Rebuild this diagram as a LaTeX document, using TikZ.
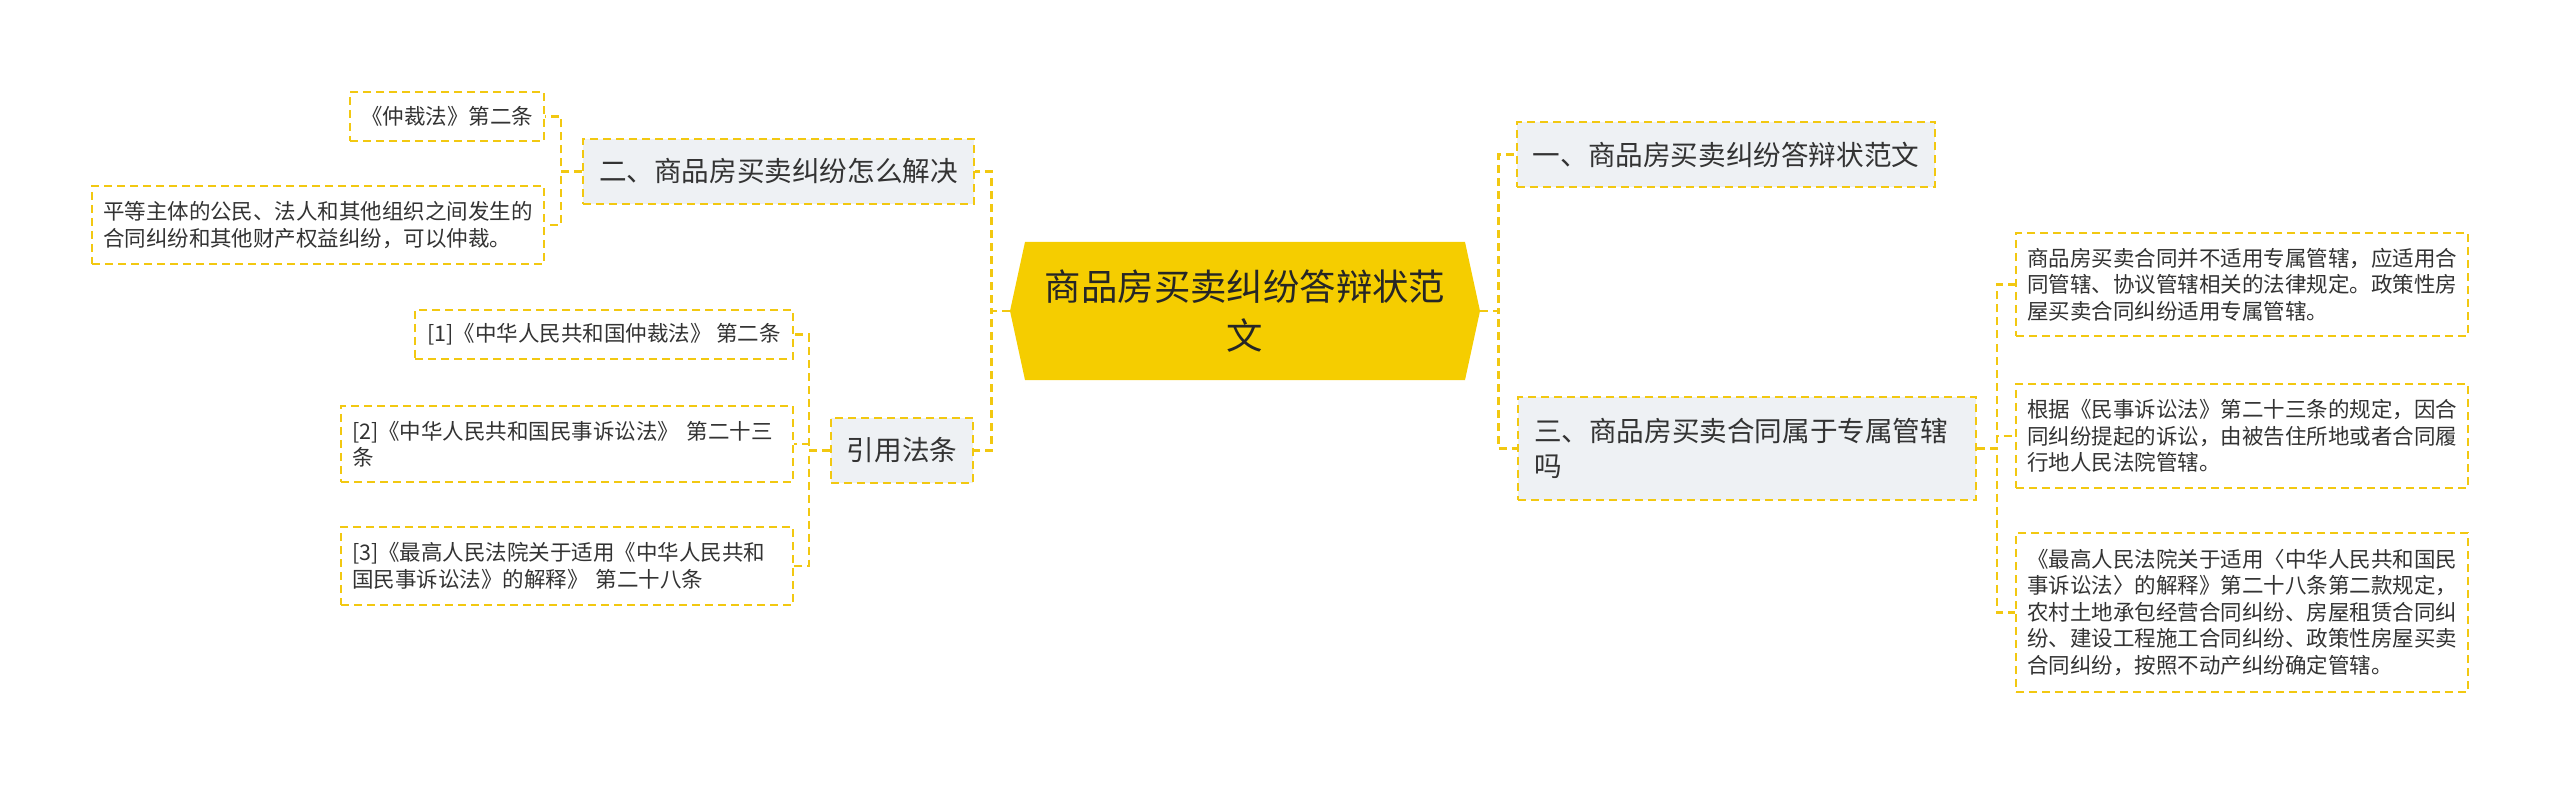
\documentclass[tikz,border=0pt]{standalone}
\usepackage{fontspec}
\setmainfont{Noto Sans CJK SC}
\definecolor{gold}{HTML}{F2C811}
\definecolor{rootfill}{HTML}{F5CD00}
\definecolor{secfill}{HTML}{EEF1F4}
\definecolor{ink}{HTML}{333333}

\tikzset{
  link/.style={draw=gold, line width=1.2pt, dash pattern=on 4pt off 2.5pt},
  section/.style={draw=gold, fill=secfill, line width=1pt, dash pattern=on 4pt off 2.5pt,
                  text=ink, font=\fontsize{13.8}{17.5}\selectfont, inner xsep=8pt, inner ysep=0pt},
  leaf/.style={draw=gold, fill=white, line width=1pt, dash pattern=on 4pt off 2.5pt,
               text=ink, font=\fontsize{10.75}{13.25}\selectfont, inner xsep=5.5pt, inner ysep=0pt},
  longleaf/.style={leaf, minimum width=226pt, text width=215pt, align=left},
}

\begin{document}
\begin{tikzpicture}[x=0.5pt, y=-0.5pt]
	\useasboundingbox (0,0) rectangle (2560,786);

	% centre
	\fill[rootfill] (1010,311) -- (1025,242) -- (1465,242) -- (1480,311) -- (1465,380) -- (1025,380) -- cycle;
	\node[minimum width=235pt, minimum height=69pt, inner sep=0pt, align=center,
	      font=\fontsize{18.2}{24.5}\selectfont, text=black!85] (root) at (1245,311)
	      {商品房买卖纠纷答辩状范\\文};

	% left side
	\node[section, minimum width=193.5pt, minimum height=32.5pt] (sec2) at (778.5,171.5) {二、商品房买卖纠纷怎么解决};
	\node[section, minimum width=69pt, minimum height=32.5pt] (cite) at (902,450.5) {引用法条};

	\node[leaf, minimum width=97pt, minimum height=24.5pt] (arb) at (447,116.5) {《仲裁法》第二条};
	\node[longleaf, minimum height=39pt] (scope) at (318,225)
	      {平等主体的公民、法人和其他组织之间发生的\\合同纠纷和其他财产权益纠纷，可以仲裁。};

	\node[leaf, minimum width=189pt, minimum height=24.5pt] (law1) at (604,334.5) {[1]《中华人民共和国仲裁法》 第二条};
	\node[longleaf, minimum height=38pt] (law2) at (567,444)
	      {[2]《中华人民共和国民事诉讼法》 第二十三\\条};
	\node[longleaf, minimum height=39pt] (law3) at (567,566)
	      {[3]《最高人民法院关于适用《中华人民共和\\国民事诉讼法》的解释》 第二十八条};

	% right side
	\node[section, minimum width=208pt, minimum height=32.5pt] (sec1) at (1726,154.5) {一、商品房买卖纠纷答辩状范文};
	\node[section, minimum width=229pt, minimum height=51.5pt, text width=213pt, align=left] (sec3) at (1747,448.5)
	      {三、商品房买卖合同属于专属管辖\\吗};

	\node[longleaf, minimum height=51.5pt] (rule1) at (2242,284.5)
	      {商品房买卖合同并不适用专属管辖，应适用合\\同管辖、协议管辖相关的法律规定。政策性房\\屋买卖合同纠纷适用专属管辖。};
	\node[longleaf, minimum height=52pt] (rule2) at (2242,436)
	      {根据《民事诉讼法》第二十三条的规定，因合\\同纠纷提起的诉讼，由被告住所地或者合同履\\行地人民法院管辖。};
	\node[longleaf, minimum height=79.5pt] (rule3) at (2242,612.5)
	      {《最高人民法院关于适用〈中华人民共和国民\\事诉讼法〉的解释》第二十八条第二款规定，\\农村土地承包经营合同纠纷、房屋租赁合同纠\\纷、建设工程施工合同纠纷、政策性房屋买卖\\合同纠纷，按照不动产纠纷确定管辖。};

	% connectors
	\draw[link] (root.west) -- ++(-18,0) |- (sec2.east);
	\draw[link] (root.west) -- ++(-18,0) |- (cite.east);
	\draw[link] (root.east) -- ++(18,0) |- (sec1.west);
	\draw[link] (root.east) -- ++(18,0) |- (sec3.west);

	\draw[link] (sec2.west) -- ++(-21,0) |- (arb.east);
	\draw[link] (sec2.west) -- ++(-21,0) |- (scope.east);

	\draw[link] (cite.west) -- ++(-21,0) |- (law1.east);
	\draw[link] (cite.west) -- ++(-21,0) |- (law2.east);
	\draw[link] (cite.west) -- ++(-21,0) |- (law3.east);

	\draw[link] (sec3.east) -- ++(20,0) |- (rule1.west);
	\draw[link] (sec3.east) -- ++(20,0) |- (rule2.west);
	\draw[link] (sec3.east) -- ++(20,0) |- (rule3.west);
\end{tikzpicture}
\end{document}
